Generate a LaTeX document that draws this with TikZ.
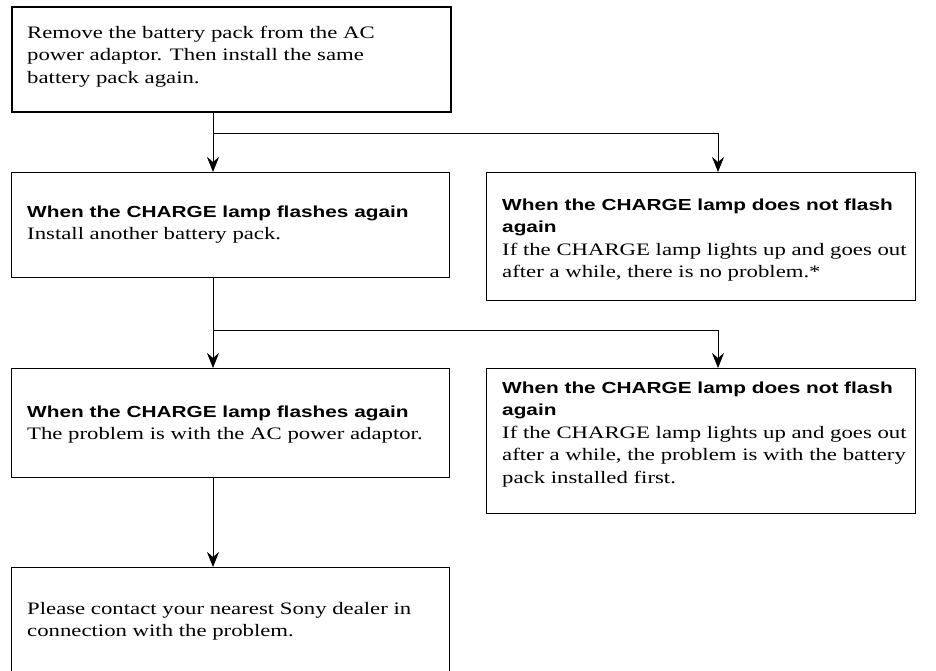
\documentclass[tikz,border=0pt]{standalone}
\usepackage{fontspec}
\setmainfont[FakeStretch=1.3]{Liberation Serif}
\newfontfamily\hdfont[FakeStretch=1.3]{Liberation Sans}
\usetikzlibrary{arrows.meta}
\newcommand\mybody{\fontsize{17.5}{22.5}\selectfont}
\newcommand\myhead{\hdfont\bfseries\fontsize{16}{22.5}\selectfont}
\newcommand\mytext[1]{\parbox[t]{420pt}{\raggedright\mybody #1}}
\begin{document}
\begin{tikzpicture}[x=1pt,y=-1pt,
  box/.style={draw, line width=1pt, rectangle, inner sep=0pt, anchor=north west},
  topbox/.style={box, line width=1.8pt},
  txt/.style={anchor=base west, inner sep=0pt},
  ln/.style={line width=0.9pt},
  arr/.style={line width=0.9pt, -{Stealth[length=15pt,width=12pt,inset=5pt]}}]
\useasboundingbox (0,0) rectangle (936,670);
% boxes
\node[topbox, minimum width=439pt, minimum height=105pt] (b0) at (11,6) {};
\node[box, minimum width=438pt, minimum height=105pt] (b1) at (11,172) {};
\node[box, minimum width=429pt, minimum height=128pt] (b2) at (486,172) {};
\node[box, minimum width=438pt, minimum height=109pt] (b3) at (11,368) {};
\node[box, minimum width=429pt, minimum height=145pt] (b4) at (486,368) {};
\node[box, minimum width=438pt, minimum height=130pt] (b5) at (11,567) {};
% texts
\node[txt] (t0) at (27,38) {\mytext{Remove the battery pack from the AC\\
power adaptor. Then install the same\\ battery pack again.}};
\node[txt] (t1) at (27,217) {\mytext{{\myhead When the CHARGE lamp flashes again}\\
Install another battery pack.}};
\node[txt] (t2) at (502,210) {\mytext{{\myhead When the CHARGE lamp does not flash}\\
{\myhead again}\\
If the CHARGE lamp lights up and goes out\\
after a while, there is no problem.*}};
\node[txt] (t3) at (27,417) {\mytext{{\myhead When the CHARGE lamp flashes again}\\
The problem is with the AC power adaptor.}};
\node[txt] (t4) at (502,393) {\mytext{{\myhead When the CHARGE lamp does not flash}\\
{\myhead again}\\
If the CHARGE lamp lights up and goes out\\
after a while, the problem is with the battery\\
pack installed first.}};
\node[txt] (t5) at (27,614) {\mytext{Please contact your nearest Sony dealer in\\
connection with the problem.}};
% connectors
\coordinate (j1) at (213,133);
\coordinate (j1r) at (718,133);
\coordinate (j2) at (213,330);
\coordinate (j2r) at (718,330);
\draw[ln] (j1 |- b0.south) -- (j1);
\draw[arr] (j1) -- (j1 |- b1.north);
\draw[ln] (j1) -- (j1r);
\draw[arr] (j1r) -- (j1r |- b2.north);
\draw[ln] (j2 |- b1.south) -- (j2);
\draw[arr] (j2) -- (j2 |- b3.north);
\draw[ln] (j2) -- (j2r);
\draw[arr] (j2r) -- (j2r |- b4.north);
\draw[arr] (j2 |- b3.south) -- (j2 |- b5.north);
\end{tikzpicture}
\end{document}
